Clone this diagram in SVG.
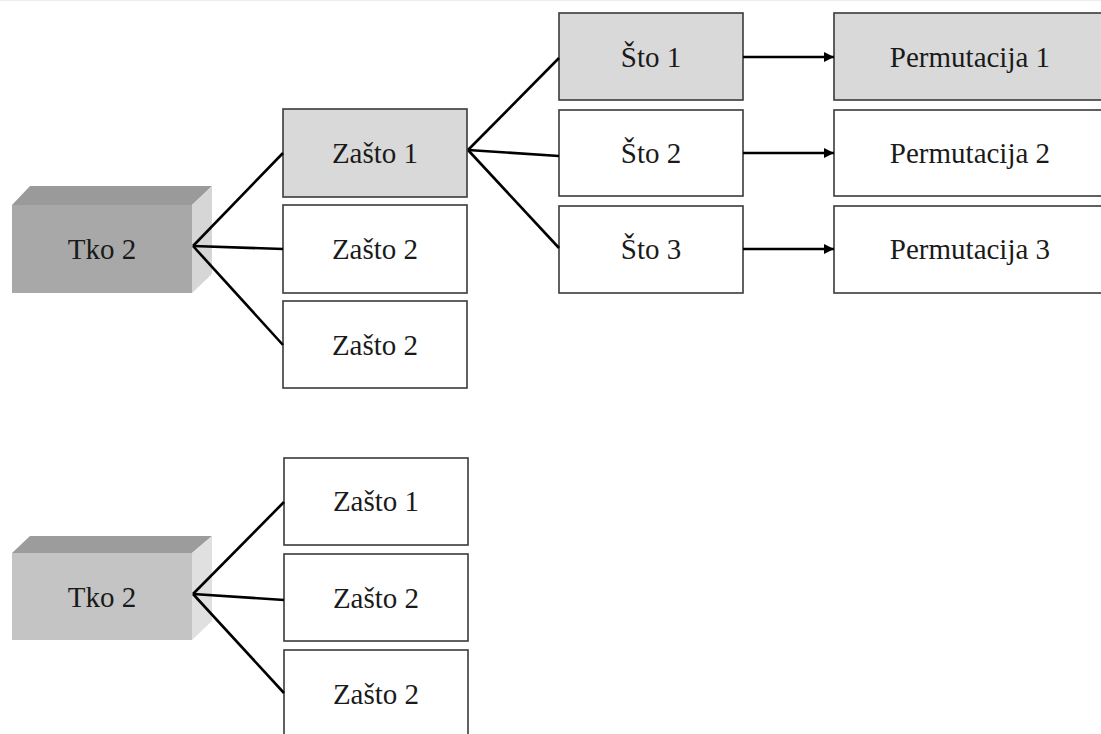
<svg xmlns="http://www.w3.org/2000/svg" width="1101" height="734" viewBox="0 0 1101 734">
  <style>
    .box { stroke: #3a3a3a; stroke-width: 1.6; }
    .hi { fill: #d9d9d9; }
    .plain { fill: #ffffff; }
    .lbl { font-family: "Liberation Serif", "Times New Roman", serif; font-size: 29px; fill: #1a1a1a; text-anchor: middle; }
    .link { stroke: #000; stroke-width: 2.6; fill: none; }
  </style>
  <defs>
    <marker id="arrow" viewBox="0 0 10 10" refX="10" refY="5" markerWidth="4" markerHeight="4" markerUnits="strokeWidth" orient="auto">
      <path d="M0,0 L10,5 L0,10 Z" fill="#000"/>
    </marker>
  </defs>

  <rect width="1101" height="734" fill="#ffffff"/>
  <line x1="0" y1="0.5" x2="1101" y2="0.5" stroke="#ececec" stroke-width="1"/>

  <!-- upper block -->
  <g id="tko2-a">
    <polygon points="12,205 30,186 212,186 192,205" fill="#9a9a9a"/>
    <polygon points="192,205 212,186 212,274 192,293" fill="#d6d6d6"/>
    <rect x="12" y="205" width="180" height="88" fill="#a8a8a8"/>
    <text class="lbl" x="102" y="259">Tko 2</text>
  </g>

  <g id="zasto1-a">
    <rect class="box hi" x="283" y="109" width="184" height="88"/>
    <text class="lbl" x="375" y="163">Zašto 1</text>
  </g>
  <g id="zasto2-a">
    <rect class="box plain" x="283" y="205" width="184" height="88"/>
    <text class="lbl" x="375" y="259">Zašto 2</text>
  </g>
  <g id="zasto2-b">
    <rect class="box plain" x="283" y="301" width="184" height="87"/>
    <text class="lbl" x="375" y="355">Zašto 2</text>
  </g>

  <g id="sto1">
    <rect class="box hi" x="559" y="13" width="184" height="87"/>
    <text class="lbl" x="651" y="67">Što 1</text>
  </g>
  <g id="sto2">
    <rect class="box plain" x="559" y="110" width="184" height="86"/>
    <text class="lbl" x="651" y="163">Što 2</text>
  </g>
  <g id="sto3">
    <rect class="box plain" x="559" y="206" width="184" height="87"/>
    <text class="lbl" x="651" y="259">Što 3</text>
  </g>

  <g id="perm1">
    <rect class="box hi" x="834" y="13" width="272" height="87"/>
    <text class="lbl" x="970" y="67">Permutacija 1</text>
  </g>
  <g id="perm2">
    <rect class="box plain" x="834" y="110" width="272" height="86"/>
    <text class="lbl" x="970" y="163">Permutacija 2</text>
  </g>
  <g id="perm3">
    <rect class="box plain" x="834" y="206" width="272" height="87"/>
    <text class="lbl" x="970" y="259">Permutacija 3</text>
  </g>

  <!-- lower block -->
  <g id="tko2-b">
    <polygon points="12,553 30,536 212,536 192,553" fill="#9c9c9c"/>
    <polygon points="192,553 212,536 212,621 192,640" fill="#e0e0e0"/>
    <rect x="12" y="553" width="180" height="87" fill="#c4c4c4"/>
    <text class="lbl" x="102" y="607">Tko 2</text>
  </g>

  <g id="zasto1-c">
    <rect class="box plain" x="284" y="458" width="184" height="87"/>
    <text class="lbl" x="376" y="511">Zašto 1</text>
  </g>
  <g id="zasto2-c">
    <rect class="box plain" x="284" y="554" width="184" height="87"/>
    <text class="lbl" x="376" y="608">Zašto 2</text>
  </g>
  <g id="zasto2-d">
    <rect class="box plain" x="284" y="650" width="184" height="100"/>
    <text class="lbl" x="376" y="704">Zašto 2</text>
  </g>

  <!-- connectors, drawn over the block faces -->
  <g id="connectors">
    <line class="link" x1="193" y1="246" x2="283" y2="153"/>
    <line class="link" x1="193" y1="246" x2="283" y2="249"/>
    <line class="link" x1="193" y1="246" x2="283" y2="345"/>
    <line class="link" x1="468" y1="150" x2="559" y2="58"/>
    <line class="link" x1="468" y1="150" x2="559" y2="156"/>
    <line class="link" x1="468" y1="150" x2="559" y2="248"/>
    <line class="link" x1="743" y1="57" x2="834" y2="57" marker-end="url(#arrow)"/>
    <line class="link" x1="743" y1="153" x2="834" y2="153" marker-end="url(#arrow)"/>
    <line class="link" x1="743" y1="249" x2="834" y2="249" marker-end="url(#arrow)"/>
    <line class="link" x1="193" y1="594" x2="284" y2="502"/>
    <line class="link" x1="193" y1="594" x2="284" y2="600"/>
    <line class="link" x1="193" y1="594" x2="284" y2="693"/>
  </g>
</svg>
